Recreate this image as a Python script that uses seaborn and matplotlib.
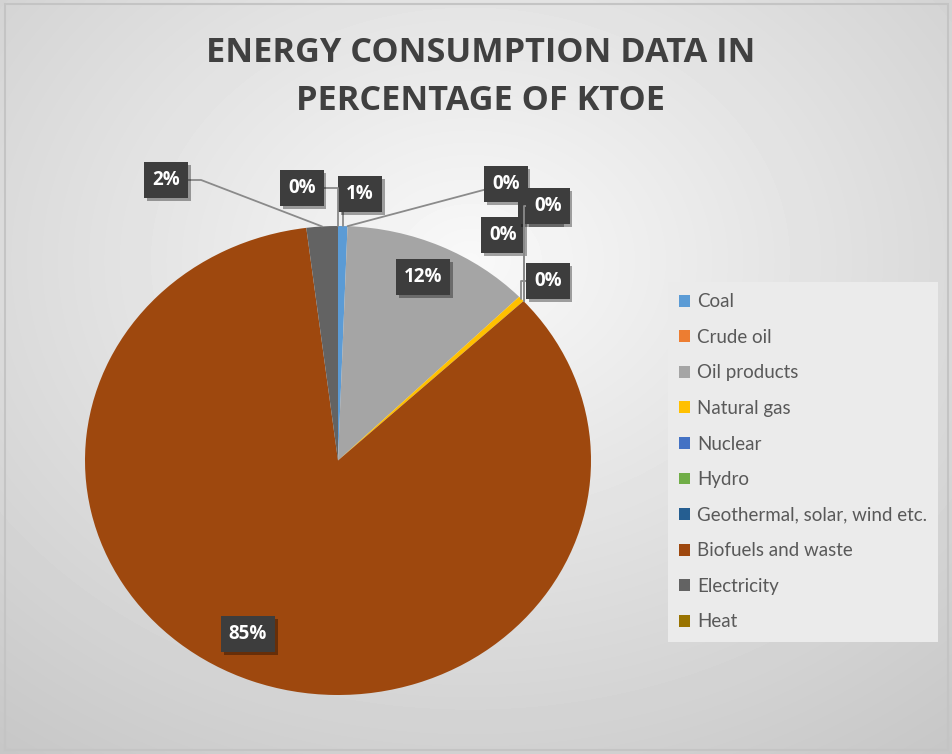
import numpy as np
import matplotlib.pyplot as plt
import matplotlib.patheffects as pe
from matplotlib.patches import Rectangle
import seaborn as sns

# energy sources, share of total consumption (% of ktoe)
categories = ['Coal', 'Crude oil', 'Oil products', 'Natural gas', 'Nuclear', 'Hydro',
              'Geothermal, solar, wind etc.', 'Biofuels and waste', 'Electricity', 'Heat']
shares = [0.6, 0.0, 12.1, 0.4, 0.0, 0.0, 0.0, 84.9, 2.0, 0.0]
slice_colors = ['#5B9BD5', '#ED7D31', '#A5A5A5', '#FFC000', '#4472C4', '#70AD47',
                '#255E91', '#9E480E', '#636363', '#997300']

# where each data label box sits (pixel position in the 953x754 image)
label_xy_px = [(360, 194), (506, 184), (423, 277), (548, 281), (503, 235),
               (540, 206), (548, 206), (248, 634), (166, 180), (302, 188)]
# how each leader line bends (None = label inside the pie, no line)
elbow = 'angle,angleA=0,angleB=90,rad=0'
leader_styles = [elbow, 'arc3,rad=0', None, elbow, elbow,
                 elbow, elbow, None, 'angle,angleA=0,angleB=-21,rad=0', elbow]

W, H = 953, 754
sns.set_theme(style='white')
plt.rcParams['font.family'] = ['Lato', 'DejaVu Sans']

fig = plt.figure(figsize=(W / 100, H / 100), dpi=100)

# soft radial grey background with a thin frame
bg = fig.add_axes([0, 0, 1, 1], zorder=-10)
yy, xx = np.mgrid[0:H, 0:W]
d = np.hypot((xx - 470) / W, (yy - 260) / H)
shade = np.clip(0.975 - 0.24 * d, 0, 1)
bg.imshow(shade, cmap='gray', vmin=0, vmax=1, extent=(0, W, H, 0), aspect='auto')
bg.add_patch(Rectangle((5, 4), W - 10, H - 8, fill=False, ec='#c4c4c4', lw=1.5))
bg.set_xlim(0, W)
bg.set_ylim(H, 0)
bg.axis('off')

# pie axes: the pie is a bit wider than tall in the reference
left, right, top, bottom = 85, 591, 226, 695
cx, cy = (left + right) / 2, (top + bottom) / 2
rx, ry = (right - left) / 2, (bottom - top) / 2
ax = fig.add_axes([left / W, 1 - bottom / H, (right - left) / W, (bottom - top) / H])
ax.patch.set_alpha(0)
palette = sns.color_palette(slice_colors)
wedges, _ = ax.pie(shares, colors=palette, startangle=90, counterclock=False,
                   radius=1, center=(0, 0), wedgeprops=dict(linewidth=0))
ax.set_aspect('auto')
ax.set_xlim(-1, 1)
ax.set_ylim(-1, 1)
ax.axis('off')

total = sum(shares)
for i, (w, val) in enumerate(zip(wedges, shares)):
    lx, ly = label_xy_px[i]
    tx, ty = (lx - cx) / rx, (cy - ly) / ry
    mid = np.deg2rad((w.theta1 + w.theta2) / 2)
    px_, py_ = np.cos(mid), np.sin(mid)
    pct = f"{val / total * 100:.0f}%"
    arrow = None
    if leader_styles[i] is not None:
        arrow = dict(arrowstyle='-', color='#8a8a8a', lw=1.3, shrinkA=0, shrinkB=0,
                     connectionstyle=leader_styles[i])
    ann = ax.annotate(pct, xy=(px_, py_), xytext=(tx, ty), ha='center', va='center',
                      fontsize=13.5, fontweight='bold', color='white',
                      family=['Open Sans', 'DejaVu Sans'],
                      bbox=dict(boxstyle='square,pad=0.42', fc='#3d3d3d', ec='none'),
                      arrowprops=arrow, annotation_clip=False, zorder=5 + i)
    ann.get_bbox_patch().set_path_effects([
        pe.SimplePatchShadow(offset=(2, -2), shadow_rgbFace='black', alpha=0.35),
        pe.Normal()])

# title in two lines
title_font = ['Open Sans', 'DejaVu Sans']
fig.text(481 / W, 1 - 62 / H, 'ENERGY CONSUMPTION DATA IN', ha='center', va='baseline',
         fontsize=24.7, fontweight='bold', color='#404040', family=title_font)
fig.text(481 / W, 1 - 110 / H, 'PERCENTAGE OF KTOE', ha='center', va='baseline',
         fontsize=24.7, fontweight='bold', color='#404040', family=title_font)

leg = ax.legend(wedges, categories, loc='upper left',
                bbox_to_anchor=(668 / W, 1 - 282 / H), bbox_transform=fig.transFigure,
                frameon=True, facecolor='#ebebeb', edgecolor='none', framealpha=1,
                fancybox=False, fontsize=13.5, labelcolor='#595959',
                handlelength=0.6, handleheight=0.6, handletextpad=0.35,
                labelspacing=0.99, borderpad=0.6, borderaxespad=0)

fig.savefig('out.png', dpi=100)
